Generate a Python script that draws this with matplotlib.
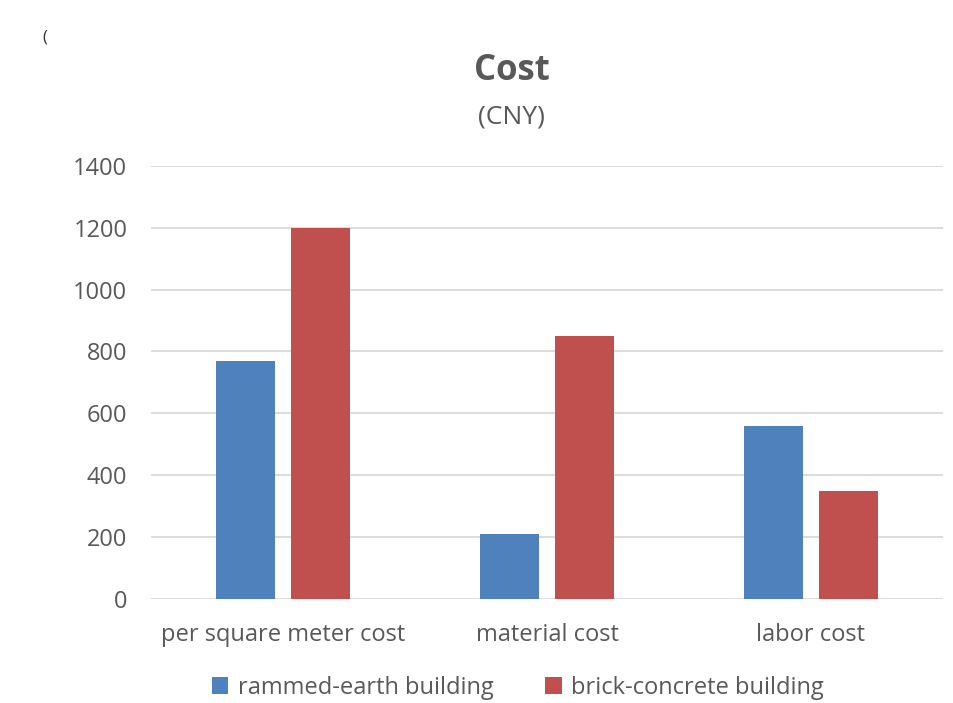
import matplotlib
matplotlib.use("Agg")
import matplotlib.pyplot as plt
import numpy as np
from matplotlib.patches import Patch

categories = ["per square meter cost", "material cost", "labor cost"]
rammed_earth = [770, 210, 560]
brick_concrete = [1200, 850, 350]
series_names = ["rammed-earth building", "brick-concrete building"]
yticks = [0, 200, 400, 600, 800, 1000, 1200, 1400]

plt.rcParams['font.family'] = ['Open Sans', 'DejaVu Sans']
TXT = '#595959'
BLUE = '#4F81BD'
RED = '#C0504D'

W, H = 954, 703
fig = plt.figure(figsize=(W / 100, H / 100), dpi=100)
ax = fig.add_axes([151 / W, 1 - 599 / H, 792 / W, (599 - 165.7) / H])

x = np.arange(len(categories))
bw = 0.225
off = 0.1415
ax.bar(x - off, rammed_earth, bw, color=BLUE, zorder=3)
ax.bar(x + off, brick_concrete, bw, color=RED, zorder=3)

ax.set_xlim(-0.5, len(categories) - 0.5)
ax.set_ylim(0, 1400)
ax.set_yticks(yticks)
ax.set_yticklabels([str(v) for v in yticks], fontsize=17, color=TXT)
ax.set_xticks(x)
ax.set_xticklabels(categories, fontsize=17, color=TXT)
ax.tick_params(axis='both', length=0)
ax.tick_params(axis='y', pad=17)
ax.tick_params(axis='x', pad=17.5)
ax.grid(axis='y', color='#D9D9D9', linewidth=1.3, zorder=0)
for s in ax.spines.values():
    s.set_visible(False)

fig.text(512 / W, 1 - 71 / H, "Cost", fontsize=25, fontweight='bold', color=TXT,
         ha='center', va='center')
fig.text(511 / W, 1 - 117 / H, "(CNY)", fontsize=19, color=TXT,
         ha='center', va='center')
fig.text(45 / W, 1 - 38 / H, "(", fontsize=12, color='#333333', ha='center', va='center')

handles = [Patch(facecolor=BLUE), Patch(facecolor=RED)]
fig.legend(handles, series_names, loc='center', bbox_to_anchor=(518 / W, 1 - 688 / H),
           ncol=2, frameon=False, fontsize=17, labelcolor=TXT,
           handlelength=0.7, handleheight=0.7, handletextpad=0.4, columnspacing=2.2)

fig.savefig("out.png", dpi=100)
